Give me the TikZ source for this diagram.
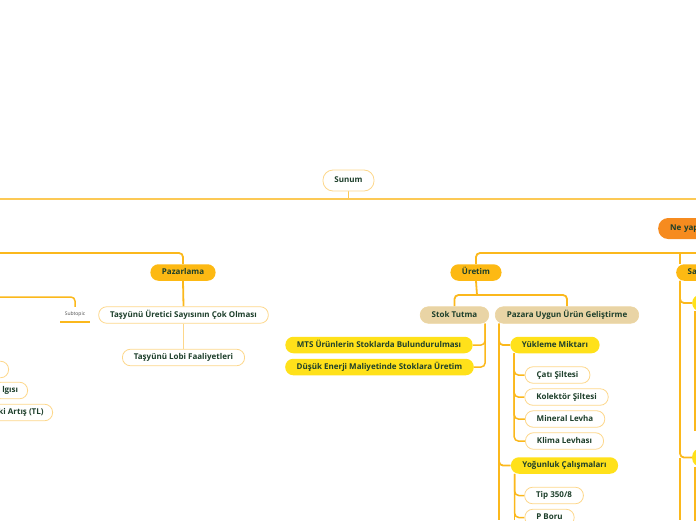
\documentclass[tikz,border=0pt]{standalone}
\usepackage{fontspec}
\setmainfont{Open Sans}
\usetikzlibrary{backgrounds}

\definecolor{mmtext}{HTML}{1D3F2B}
\definecolor{amberfill}{HTML}{FDB913}
\definecolor{orangefill}{HTML}{F68B1F}
\definecolor{yellowfill}{HTML}{FFE11A}
\definecolor{beigefill}{HTML}{E9D4A5}
\definecolor{lightborder}{HTML}{FDD78A}
\definecolor{linkcolor}{HTML}{FBB81C}
\definecolor{busline}{HTML}{FCC955}

\begin{document}
\begin{tikzpicture}[x=1pt, y=-1pt,
    topic/.style={rounded corners=8pt, minimum height=16.5pt, inner xsep=11.5pt, inner ysep=0pt,
        text height=5.8pt, text depth=1.7pt, text=mmtext,
        font=\fontsize{8}{9.5}\selectfont\bfseries},
    whitetopic/.style={topic, draw=lightborder, line width=0.8pt, fill=white},
    ambertopic/.style={topic, fill=amberfill},
    orangetopic/.style={topic, fill=orangefill, minimum height=21pt, rounded corners=10pt},
    yellowtopic/.style={topic, fill=yellowfill},
    beigetopic/.style={topic, fill=beigefill, draw=beigefill!85!lightborder, line width=0.6pt},
    link/.style={draw=linkcolor, line width=1.8pt, rounded corners=4pt},
    thinlink/.style={draw=lightborder, line width=0.8pt}]
    \useasboundingbox (0,0) rectangle (696,520);

    % Central topic
    \node[whitetopic, minimum height=21pt, rounded corners=10pt] (sunum) at (348.5,180.5) {Sunum};
    \coordinate (buswest) at (0,199);
    \coordinate (buseast) at (696,199);
    \node[orangetopic, anchor=west, text width=36pt, align=left, inner xsep=12pt] (neyap) at (658,228.5) {Ne yap};

    % Left branch (Pazarlama)
    \coordinate (westedge) at (0,253);
    \node[ambertopic] (pazarlama) at (183,272.5) {Pazarlama};
    \node[whitetopic] (tasuretici) at (183.5,315) {Taşyünü Üretici Sayısının Çok Olması};
    \node[whitetopic] (taslobi) at (183.5,357.5) {Taşyünü Lobi Faaliyetleri};
    \coordinate (subwest) at (0,297);
    \node[font=\fontsize{5}{6}\selectfont, text=black!70, inner xsep=4.5pt, minimum height=15pt] (subtopic) at (75,314.5) {Subtopic};
    \node[whitetopic, anchor=east, minimum width=40pt] (leftone) at (9,369.5) {};
    \node[whitetopic, anchor=east, inner xsep=9.5pt] (lefttwo) at (28,390.5) {lgısı};
    \node[whitetopic, anchor=east, inner xsep=9pt] (leftthree) at (53,412.5) {ki Artış (TL)};

    % Right branch (Üretim)
    \coordinate (eastedge) at (696,253);
    \node[ambertopic] (uretim) at (476,272.5) {Üretim};
    \node[ambertopic, anchor=west, text width=26pt, align=left] (sa) at (676,272.5) {Sa};
    \node[yellowtopic, anchor=west, minimum width=30pt] (sayone) at (692,303) {};
    \node[yellowtopic, anchor=west, minimum width=30pt, minimum height=18pt] (saytwo) at (692,457.5) {};
    \node[beigetopic] (stok) at (454.5,315) {Stok Tutma};
    \node[beigetopic] (pazara) at (567,315) {Pazara Uygun Ürün Geliştirme};
    \node[yellowtopic] (mts) at (379,345) {MTS Ürünlerin Stoklarda Bulundurulması};
    \node[yellowtopic] (dusuk) at (379.5,367) {Düşük Enerji Maliyetinde Stoklara Üretim};
    \node[yellowtopic] (yukleme) at (555,345) {Yükleme Miktarı};
    \node[whitetopic] (cati) at (557.5,375) {Çatı Şiltesi};
    \node[whitetopic] (kolektor) at (566.5,397) {Kolektör Şiltesi};
    \node[whitetopic] (mineral) at (565,419) {Mineral Levha};
    \node[whitetopic] (klima) at (564.5,441) {Klima Levhası};
    \node[yellowtopic] (yogunluk) at (564.5,465.5) {Yoğunluk Çalışmaları};
    \node[whitetopic] (tip) at (554,495.5) {Tip 350/8};
    \node[whitetopic] (pboru) at (549.5,517.5) {P Boru};
    \coordinate (sabus) at (680,253);
    \coordinate (uretimbus) at (477,295);

    % Connectors
    \begin{scope}[on background layer]
        \draw[draw=busline, line width=1.2pt] (buswest) -- (buseast);
        \draw[draw=busline, line width=1.2pt] (sunum.south) -- (sunum.south |- buswest);
        \draw[link] (westedge) -| (pazarlama.north);
        \draw[link] (pazarlama.south) -- (tasuretici.north);
        \draw[thinlink] (tasuretici.south) -- (taslobi.north);
        \draw[link, line width=1.5pt] (subwest) -| (subtopic.north);
        \draw[link, line width=1.5pt, rounded corners=0pt] (subtopic.south west) -- (subtopic.south east);
        \draw[link] (uretim.north) |- (eastedge);
        \draw[link] (sabus) -- (sabus |- sa.north);
        \draw[link] (sabus |- sa.south) |- (sayone.west);
        \draw[link] (sabus |- sa.south) |- (saytwo.west);
        \draw[link] (sabus |- saytwo.west) -- (sabus |- 0,520);
        \draw[link, line width=1.5pt] ([xshift=3pt]sayone.south west) -- ++(0,120);
        \draw[link, line width=1.5pt] ([xshift=3pt]saytwo.south west) -- ++(0,60);
        \draw[link] (uretim.south) -- (uretimbus);
        \draw[link] (uretimbus) -| (stok.north);
        \draw[link] (uretimbus) -| (pazara.north);
        \draw[link, line width=1.5pt] ([xshift=-4pt]stok.south east) |- (mts.east);
        \draw[link, line width=1.5pt] ([xshift=-4pt]stok.south east) |- (dusuk.east);
        \draw[link] ([xshift=4pt]pazara.south west) |- (yukleme.west);
        \draw[link] ([xshift=4pt]pazara.south west) |- (yogunluk.west);
        \draw[link] ([xshift=4pt]pazara.south west) -- ([xshift=4pt]pazara.south west |- 0,520);
        \foreach \child in {cati, kolektor, mineral, klima}
            \draw[link, line width=1.5pt] ([xshift=4pt]yukleme.south west) |- (\child.west);
        \foreach \child in {tip, pboru}
            \draw[link, line width=1.5pt] ([xshift=4pt]yogunluk.south west) |- (\child.west);
        \draw[link, line width=1.5pt] ([xshift=4pt]yogunluk.south west) -- ([xshift=4pt]yogunluk.south west |- 0,520);
    \end{scope}
\end{tikzpicture}
\end{document}
